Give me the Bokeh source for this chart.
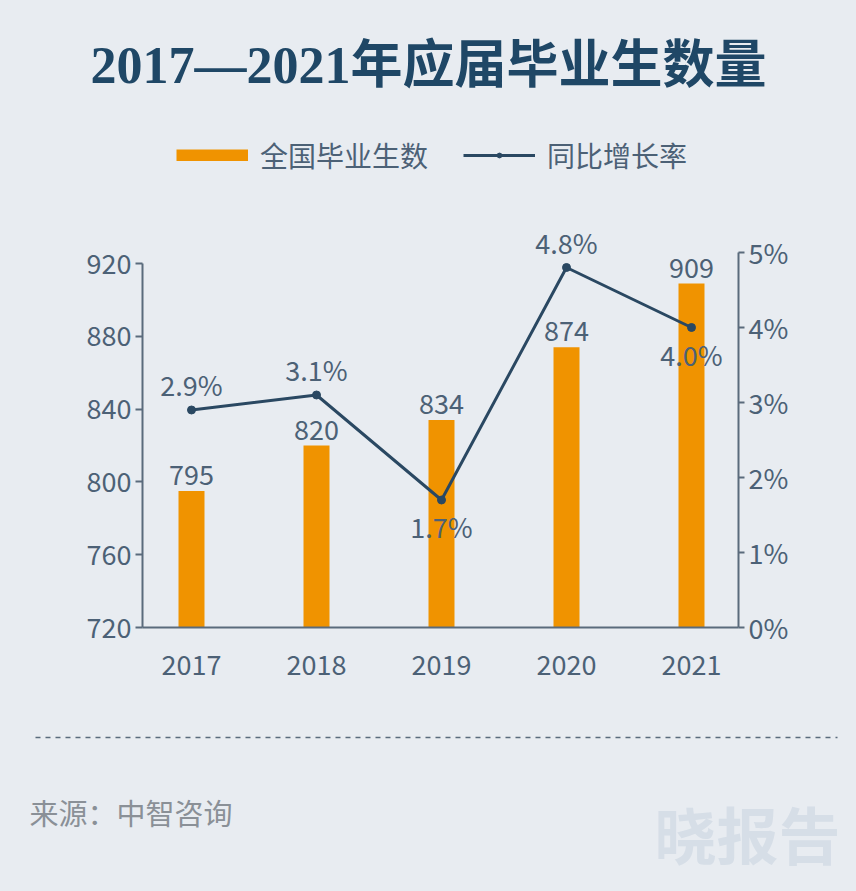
from bokeh.plotting import figure
from bokeh.layouts import column, row
from bokeh.models import (Range1d, LinearAxis, FixedTicker, Label, Legend, LegendItem,
                          Arrow, ColumnDataSource, PrintfTickFormatter)
from bokeh.core.properties import value
from bokeh.embed import file_html
from bokeh.resources import INLINE

# ---- data ----
years = ["2017", "2018", "2019", "2020", "2021"]
graduates = [795, 820, 834, 874, 909]          # 万人
growth = [2.9, 3.1, 1.7, 4.8, 4.0]             # %
growth_labels = ["2.9%", "3.1%", "1.7%", "4.8%", "4.0%"]
growth_label_side = ["above", "above", "below", "above", "below"]
left_ticks = [720, 760, 800, 840, 880, 920]
right_ticks = [0, 1, 2, 3, 4, 5]

title_text = "2017—2021年应届毕业生数量"
bar_name = "全国毕业生数"
line_name = "同比增长率"
source_text = "来源：中智咨询"
watermark_text = "晓报告"

# ---- style ----
W = 856
BG = "#e8ecf1"
ORANGE = "#f09300"
NAVY = "#2a4862"
AXIS = "#5a6b7c"
TXT = "#4c6176"
FONT = "Noto Sans CJK SC"
NAN = float("nan")


def blank(height):
    f = figure(width=W, height=height, output_backend="svg", toolbar_location=None,
               x_range=Range1d(0, W), y_range=Range1d(height, 0),
               x_axis_type=None, y_axis_type=None, min_border=0)
    f.background_fill_color = None
    f.border_fill_color = None
    f.outline_line_color = None
    f.grid.visible = False
    return f


# ---- header: title + legend ----
head = blank(198)
head.add_layout(Label(x=428, y=65, text=title_text, text_align="center",
                      text_baseline="middle", text_font="Liberation Serif, Noto Sans CJK SC",
                      text_font_style="bold", text_font_size="52px", text_color="#1f4766"))
# legend keys only (no visible data)
lb = head.line(x="x", y="y", source=ColumnDataSource(dict(x=[NAN], y=[NAN])),
               line_color=ORANGE, line_width=12, line_cap="butt")
ll = head.line(x="x", y="y", source=ColumnDataSource(dict(x=[NAN], y=[NAN])),
               line_color=NAVY, line_width=3)
lp = head.scatter(x="x", y="y", source=ColumnDataSource(dict(x=[NAN], y=[NAN])), size=7,
                  fill_color=NAVY, line_color=NAVY)
legend = Legend(items=[LegendItem(label=bar_name, renderers=[lb]),
                       LegendItem(label=line_name, renderers=[ll, lp])],
                orientation="horizontal", location=(176, 23),
                glyph_width=72, glyph_height=12, label_standoff=12, spacing=35,
                padding=0, margin=0, background_fill_alpha=0, border_line_color=None,
                label_text_font=FONT, label_text_font_size="28px", label_text_color=TXT)
head.add_layout(legend)

# ---- main chart ----
xs = list(range(len(years)))
bar_src = ColumnDataSource(dict(x=xs, y=graduates, label=[str(v) for v in graduates]))
side_off = {"above": -25, "below": 27}
line_src = ColumnDataSource(dict(x=xs, y=growth, label=growth_labels,
                                 off=[side_off[s] for s in growth_label_side]))

p = figure(width=W, height=502, output_backend="svg", toolbar_location=None,
           x_range=Range1d(-0.392, 4.376), y_range=Range1d(720, 946.4),
           min_border_left=142, min_border_right=118, min_border_top=17,
           min_border_bottom=73, x_axis_type=None, y_axis_type=None)
p.background_fill_color = None
p.border_fill_color = None
p.outline_line_color = None
p.extra_y_ranges = {"pct": Range1d(0, 5.4933)}

yl = LinearAxis(ticker=FixedTicker(ticks=left_ticks), bounds=(720, 920))
yr = LinearAxis(y_range_name="pct", ticker=FixedTicker(ticks=right_ticks), bounds=(0, 5),
                formatter=PrintfTickFormatter(format="%d%%"))
xa = LinearAxis(ticker=FixedTicker(ticks=xs),
                major_label_overrides={i: y for i, y in zip(xs, years)})
for ax in (yl, yr, xa):
    ax.axis_line_color = AXIS
    ax.axis_line_width = 2
    ax.major_tick_line_color = AXIS
    ax.major_tick_line_width = 2
    ax.major_tick_in = 0
    ax.major_tick_out = 7
    ax.minor_tick_line_color = None
    ax.major_label_text_font = FONT
    ax.major_label_text_font_size = "27px"
    ax.major_label_text_color = TXT
    ax.major_label_standoff = 4
xa.major_tick_out = 0
xa.major_label_standoff = 27
yr.major_tick_out = 6
p.add_layout(yl, "left")
p.add_layout(yr, "right")
p.add_layout(xa, "below")

p.vbar(x="x", top="y", bottom=720, width=0.208, source=bar_src,
       fill_color=ORANGE, line_color=None)
p.line(x="x", y="y", source=line_src, y_range_name="pct", line_color=NAVY, line_width=3)
p.scatter(x="x", y="y", source=line_src, y_range_name="pct",
          size=8, fill_color=NAVY, line_color=NAVY)
p.text(x="x", y="y", text="label", source=bar_src, y_offset=-16,
       text_font=value(FONT), text_font_size="27px", text_color=TXT,
       text_align="center", text_baseline="middle")
p.text(x="x", y="y", text="label", source=line_src, y_range_name="pct", y_offset="off",
       text_font=value(FONT), text_font_size="27px", text_color=TXT,
       text_align="center", text_baseline="middle")

# ---- footer ----
foot = blank(191)
foot.add_layout(Arrow(end=None, x_start=35, y_start=37, x_end=837, y_end=37,
                      line_color=AXIS, line_width=1.5, line_dash="5 5"))
foot.add_layout(Label(x=29, y=111, text=source_text, text_align="left",
                      text_baseline="middle", text_font=FONT,
                      text_font_size="29px", text_color="#8a9097"))
foot.add_layout(Label(x=747, y=132, text=watermark_text, text_align="center",
                      text_baseline="middle", text_font=FONT, text_font_style="bold",
                      text_font_size="62px", text_color="#d6dee7"))

page = column(row(head), row(p), row(foot), spacing=0,
              styles={"background-color": BG})
open("out.html", "w").write(file_html(page, INLINE))
